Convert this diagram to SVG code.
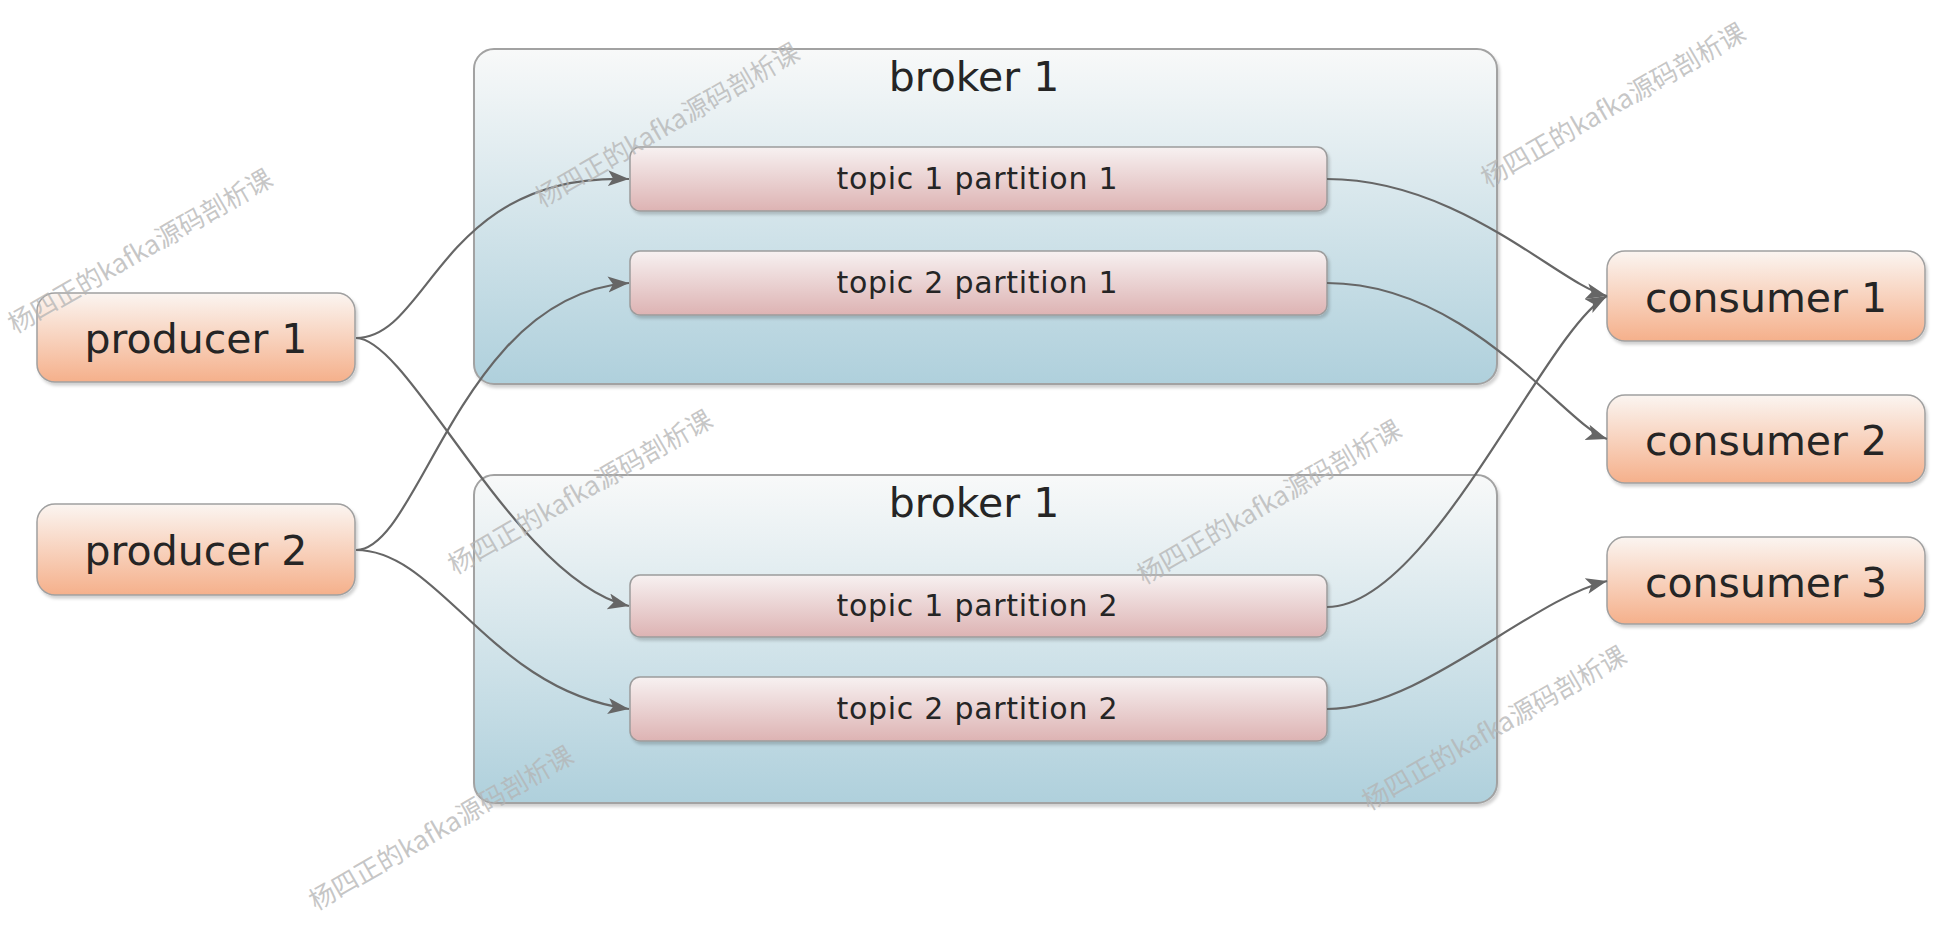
<svg xmlns="http://www.w3.org/2000/svg" width="1940" height="932" viewBox="0 0 1940 932">
<style>
.lbl{font-family:"DejaVu Sans","Liberation Sans",sans-serif;fill:#252525;text-anchor:middle}
.big{font-size:41px}
.small{font-size:30px}
.broker{fill:url(#gBroker);stroke:#a2a2a2;stroke-width:2;filter:url(#sh)}
.topic{fill:url(#gTopic);stroke:#9c9c9c;stroke-width:1.5;filter:url(#sh)}
.actor{fill:url(#gActor);stroke:#a0a0a0;stroke-width:1.5;filter:url(#sh)}
.conn{fill:none;stroke:#666;stroke-width:2.2;marker-end:url(#arr)}
.wm{font-family:"Noto Sans CJK SC","Noto Sans",sans-serif;font-size:26px;fill:#b4b4b4;fill-opacity:0.75}
</style>
<defs>
<linearGradient id="gBroker" x1="0" y1="0" x2="0" y2="1"><stop offset="0" stop-color="#f8f9f9"/><stop offset="1" stop-color="#afd0dc"/></linearGradient>
<linearGradient id="gTopic" x1="0" y1="0" x2="0" y2="1"><stop offset="0" stop-color="#f7f1f1"/><stop offset="1" stop-color="#ddb3b3"/></linearGradient>
<linearGradient id="gActor" x1="0" y1="0" x2="0" y2="1"><stop offset="0" stop-color="#fbf5f1"/><stop offset="1" stop-color="#f5b08b"/></linearGradient>
<filter id="sh" x="-5%" y="-5%" width="110%" height="120%"><feDropShadow dx="2" dy="3" stdDeviation="1.5" flood-color="#000" flood-opacity="0.18"/></filter>
<marker id="arr" markerUnits="userSpaceOnUse" markerWidth="24" markerHeight="18" refX="21" refY="8" orient="auto"><path d="M0,0 L21,8 L0,16 L5,8 Z" fill="#666"/></marker>
</defs>

<g id="broker-1">
<rect class="broker" x="474" y="49" width="1023" height="335" rx="20"/>
<text class="lbl big" x="974" y="91">broker 1</text>
</g>
<g id="broker-2">
<rect class="broker" x="474" y="475" width="1023" height="328" rx="20"/>
<text class="lbl big" x="974" y="517">broker 1</text>
</g>

<g id="topic-1-partition-1">
<rect class="topic" x="630" y="147" width="697" height="64" rx="10"/>
<text class="lbl small" x="977" y="189" textLength="281" lengthAdjust="spacing">topic 1 partition 1</text>
</g>
<g id="topic-2-partition-1">
<rect class="topic" x="630" y="251" width="697" height="64" rx="10"/>
<text class="lbl small" x="977" y="293" textLength="281" lengthAdjust="spacing">topic 2 partition 1</text>
</g>
<g id="topic-1-partition-2">
<rect class="topic" x="630" y="575" width="697" height="62" rx="10"/>
<text class="lbl small" x="977" y="616" textLength="281" lengthAdjust="spacing">topic 1 partition 2</text>
</g>
<g id="topic-2-partition-2">
<rect class="topic" x="630" y="677" width="697" height="64" rx="10"/>
<text class="lbl small" x="977" y="719" textLength="281" lengthAdjust="spacing">topic 2 partition 2</text>
</g>

<g id="producer-1">
<rect class="actor" x="37" y="293" width="318" height="89" rx="18"/>
<text class="lbl big" x="196" y="353">producer 1</text>
</g>
<g id="producer-2">
<rect class="actor" x="37" y="504" width="318" height="91" rx="18"/>
<text class="lbl big" x="196" y="565">producer 2</text>
</g>

<g id="consumer-1">
<rect class="actor" x="1607" y="251" width="318" height="90" rx="18"/>
<text class="lbl big" x="1766" y="312">consumer 1</text>
</g>
<g id="consumer-2">
<rect class="actor" x="1607" y="395" width="318" height="88" rx="18"/>
<text class="lbl big" x="1766" y="455">consumer 2</text>
</g>
<g id="consumer-3">
<rect class="actor" x="1607" y="537" width="318" height="87" rx="18"/>
<text class="lbl big" x="1766" y="597">consumer 3</text>
</g>

<g id="connectors">
<path class="conn" d="M356,338 C430,338 440,172 629,179"/>
<path class="conn" d="M356,338 C410,338 515,580 629,606"/>
<path class="conn" d="M356,550 C420,550 460,295 629,283"/>
<path class="conn" d="M356,550 C440,550 490,690 629,709"/>
<path class="conn" d="M1327,179 C1460,179 1560,285 1607,296"/>
<path class="conn" d="M1327,283 C1470,283 1565,425 1607,439"/>
<path class="conn" d="M1327,607 C1430,607 1545,330 1607,296"/>
<path class="conn" d="M1327,709 C1420,709 1530,600 1607,581"/>
</g>

<g id="watermarks">
<text class="wm" transform="translate(15,334) rotate(-30)">杨四正的kafka源码剖析课</text>
<text class="wm" transform="translate(542,208) rotate(-30)">杨四正的kafka源码剖析课</text>
<text class="wm" transform="translate(1488,188) rotate(-30)">杨四正的kafka源码剖析课</text>
<text class="wm" transform="translate(455,575) rotate(-30)">杨四正的kafka源码剖析课</text>
<text class="wm" transform="translate(1144,585) rotate(-30)">杨四正的kafka源码剖析课</text>
<text class="wm" transform="translate(316,911) rotate(-30)">杨四正的kafka源码剖析课</text>
<text class="wm" transform="translate(1369,811) rotate(-30)">杨四正的kafka源码剖析课</text>
</g>
</svg>
